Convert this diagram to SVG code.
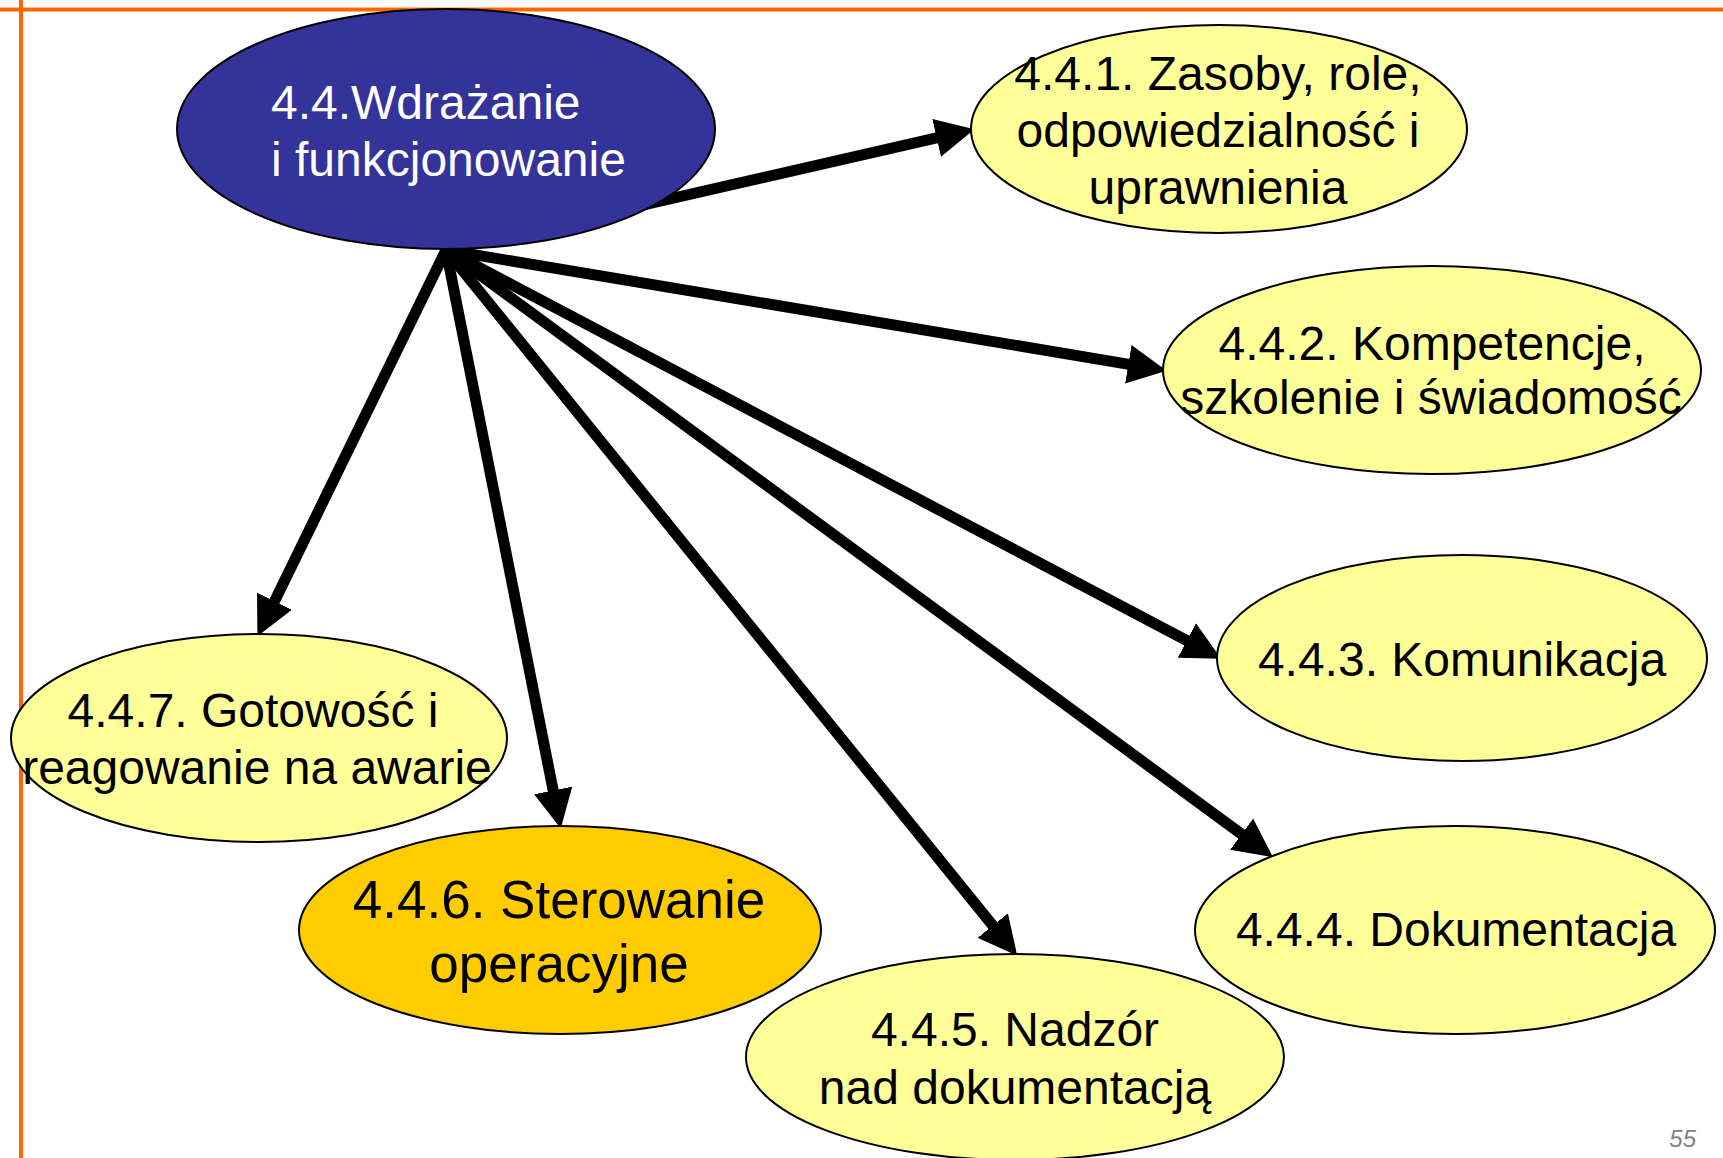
<svg xmlns="http://www.w3.org/2000/svg" width="1723" height="1158" viewBox="0 0 1723 1158">
<style>
  .frame { stroke: #FF6600; stroke-width: 4; fill: none; }
  .node { stroke: #000; stroke-width: 2; }
  .yellow { fill: #FFFF99; }
  .gold { fill: #FFCC00; }
  .main { fill: #333399; }
  .conn { stroke: #000; stroke-width: 11; fill: none; marker-end: url(#arrow); }
  .t { font-family: "Liberation Sans", Arial, sans-serif; font-size: 48px; fill: #000; text-anchor: middle; }
  .tw { font-family: "Liberation Sans", Arial, sans-serif; font-size: 48px; fill: #FFFFFF; }
  .big { font-size: 53px; }
  .pg { font-family: "Liberation Sans", Arial, sans-serif; font-size: 24px; font-style: italic; fill: #808080; text-anchor: end; }
</style>
<defs>
  <marker id="arrow" markerUnits="userSpaceOnUse" markerWidth="40" markerHeight="40" viewBox="0 -18 36 36" refX="2" refY="0" orient="auto">
    <path d="M0,-17.5 L35,0 L0,17.5 Z" fill="#000"/>
  </marker>
</defs>
<rect width="1723" height="1158" fill="#FFFFFF"/>
<g id="frame">
  <line class="frame" x1="0" y1="9.5" x2="1723" y2="9.5"/>
  <line class="frame" x1="21" y1="0" x2="21" y2="1158"/>
</g>
<g id="connectors">
  <line class="conn" x1="446" y1="250" x2="938.8" y2="137.4"/>
  <line class="conn" x1="446" y1="250" x2="1130.5" y2="364.6"/>
  <line class="conn" x1="446" y1="250" x2="1188.8" y2="641.6"/>
  <line class="conn" x1="446" y1="250" x2="1243.4" y2="835.5"/>
  <line class="conn" x1="446" y1="250" x2="994.2" y2="927.3"/>
  <line class="conn" x1="446" y1="250" x2="553.6" y2="792.6"/>
  <line class="conn" x1="446" y1="250" x2="273.5" y2="603.3"/>
</g>
<g id="node-4-4">
  <ellipse class="node main" cx="446" cy="129" rx="269" ry="120"/>
  <text class="tw" x="271" y="119">4.4.Wdrażanie</text>
  <text class="tw" x="271" y="176">i funkcjonowanie</text>
</g>
<g id="node-4-4-1">
  <ellipse class="node yellow" cx="1219" cy="129" rx="248" ry="104"/>
  <text class="t" x="1218" y="90">4.4.1. Zasoby, role,</text>
  <text class="t" x="1218" y="147">odpowiedzialność i</text>
  <text class="t" x="1218" y="204">uprawnienia</text>
</g>
<g id="node-4-4-2">
  <ellipse class="node yellow" cx="1432" cy="370" rx="269" ry="104"/>
  <text class="t" x="1432" y="360">4.4.2. Kompetencje,</text>
  <text class="t" x="1431" y="414">szkolenie i świadomość</text>
</g>
<g id="node-4-4-3">
  <ellipse class="node yellow" cx="1462" cy="658" rx="245" ry="103"/>
  <text class="t" x="1462" y="676">4.4.3. Komunikacja</text>
</g>
<g id="node-4-4-4">
  <ellipse class="node yellow" cx="1455" cy="930" rx="260" ry="104"/>
  <text class="t" x="1456" y="946">4.4.4. Dokumentacja</text>
</g>
<g id="node-4-4-5">
  <ellipse class="node yellow" cx="1015" cy="1057" rx="269" ry="103"/>
  <text class="t" x="1015" y="1046">4.4.5. Nadzór</text>
  <text class="t" x="1015" y="1104">nad dokumentacją</text>
</g>
<g id="node-4-4-6">
  <ellipse class="node gold" cx="560" cy="930" rx="261" ry="104"/>
  <text class="t big" x="559" y="918">4.4.6. Sterowanie</text>
  <text class="t big" x="559" y="982">operacyjne</text>
</g>
<g id="node-4-4-7">
  <ellipse class="node yellow" cx="259" cy="738" rx="248" ry="104"/>
  <text class="t" x="253" y="727">4.4.7. Gotowość i</text>
  <text class="t" x="257" y="784">reagowanie na awarie</text>
</g>
<text class="pg" x="1696" y="1147">55</text>
</svg>
